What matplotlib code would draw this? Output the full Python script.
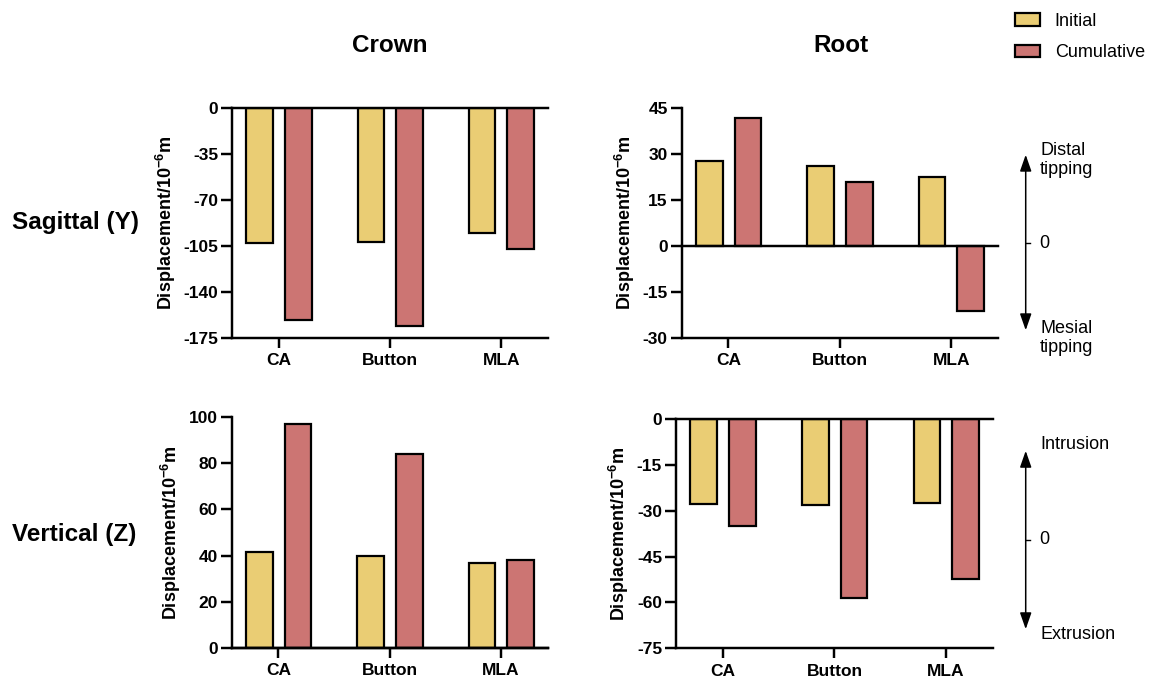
import numpy as np
import matplotlib
matplotlib.use("Agg")
import matplotlib.pyplot as plt
from matplotlib.lines import Line2D

plt.rcParams['font.family'] = ['Liberation Sans', 'DejaVu Sans']
plt.rcParams['mathtext.fontset'] = 'custom'
plt.rcParams['mathtext.rm'] = 'Liberation Sans'
plt.rcParams['mathtext.bf'] = 'Liberation Sans:bold'
plt.rcParams['axes.unicode_minus'] = False

# data (10^-6 m)
groups = ["CA", "Button", "MLA"]
series = ["Initial", "Cumulative"]
crown_y_initial = [-103.0, -101.7, -95.4]
crown_y_cumulative = [-161.3, -165.6, -107.5]
root_y_initial = [27.6, 26.0, 22.4]
root_y_cumulative = [41.7, 20.8, -21.3]
crown_z_initial = [41.7, 39.9, 36.8]
crown_z_cumulative = [97.0, 84.2, 37.9]
root_z_initial = [-27.9, -28.0, -27.4]
root_z_cumulative = [-34.9, -58.4, -52.2]

ylims = {"tl": (-175, 0), "tr": (-30, 45), "bl": (0, 100), "br": (-75, 0)}
yticks = {"tl": np.arange(-175, 1, 35), "tr": np.arange(-30, 46, 15),
          "bl": np.arange(0, 101, 20), "br": np.arange(-75, 1, 15)}

c_init = "#EACD74"
c_cum = "#CC7573"
lw = 1.6

fig = plt.figure(figsize=(11.53, 6.83), dpi=100)

panels = [
    ("tl", [0.2012, 0.5051, 0.2741, 0.3368], crown_y_initial, crown_y_cumulative),
    ("tr", [0.5912, 0.5051, 0.2744, 0.3368], root_y_initial, root_y_cumulative),
    ("bl", [0.2010, 0.0517, 0.2741, 0.3373], crown_z_initial, crown_z_cumulative),
    ("br", [0.5863, 0.0508, 0.2749, 0.3357], root_z_initial, root_z_cumulative),
]

x = np.arange(len(groups))
for key, rect, init, cum in panels:
    ax = fig.add_axes(rect)
    ax.bar(x - 0.172, init, width=0.24, color=c_init, edgecolor="black", linewidth=lw, zorder=2)
    ax.bar(x + 0.175, cum, width=0.24, color=c_cum, edgecolor="black", linewidth=lw, zorder=2)
    ax.axhline(0, color="black", linewidth=lw * 1.1, zorder=3, clip_on=False)
    ax.set_xlim(-0.42, 2.42)
    ax.set_ylim(*ylims[key])
    ax.set_yticks(yticks[key])
    ax.set_xticks(x)
    ax.set_xticklabels(groups)
    for s in ["top", "right"]:
        ax.spines[s].set_visible(False)
    for s in ["left", "bottom"]:
        ax.spines[s].set_linewidth(lw * 1.1)
    ax.tick_params(axis="both", width=lw * 1.1, labelsize=12.5)
    ax.tick_params(axis="y", length=8, pad=2)
    ax.tick_params(axis="x", length=7, pad=4)
    for lab in ax.get_xticklabels() + ax.get_yticklabels():
        lab.set_fontweight("bold")
    ax.set_ylabel(r"Displacement/10$^{\mathbf{-6}}$m", fontsize=13, fontweight="bold", labelpad=4)

# column / row titles
fig.text(0.338, 0.934, "Crown", ha="center", va="center", fontsize=17.5, fontweight="bold")
fig.text(0.729, 0.934, "Root", ha="center", va="center", fontsize=17.5, fontweight="bold")
fig.text(0.010, 0.6735, "Sagittal (Y)", ha="left", va="center", fontsize=17.5, fontweight="bold")
fig.text(0.010, 0.2167, "Vertical (Z)", ha="left", va="center", fontsize=17.5, fontweight="bold")

# legend
handles = [plt.Rectangle((0, 0), 1, 1, facecolor=c_init, edgecolor="black", linewidth=lw),
           plt.Rectangle((0, 0), 1, 1, facecolor=c_cum, edgecolor="black", linewidth=lw)]
fig.legend(handles, series, loc="upper left", bbox_to_anchor=(0.866, 1.005),
           frameon=False, fontsize=13, handlelength=1.42, handleheight=0.7,
           handletextpad=0.8, labelspacing=0.8)

# direction annotations
ax_x = 0.8896
for top, bot, mid, up_txt, dn_txt, up_y, dn_y in [
    (0.7775, 0.5124, 0.6442, "Distal\ntipping", "Mesial\ntipping", 0.766, 0.505),
    (0.344, 0.0747, 0.2094, "Intrusion", "Extrusion", 0.3485, 0.0703),
]:
    fig.patches.append(matplotlib.patches.FancyArrowPatch(
        (ax_x, bot), (ax_x, top), transform=fig.transFigure,
        arrowstyle="<|-|>,head_length=1.0,head_width=0.35", mutation_scale=10,
        color="black", linewidth=1.1))
    fig.lines.append(Line2D([ax_x, ax_x + 0.004], [mid, mid], transform=fig.transFigure,
                            color="black", linewidth=1.0))
    fig.text(0.901, mid, "0", ha="left", va="center", fontsize=13)
    fig.text(0.902, up_y, up_txt, ha="left", va="center", fontsize=13, linespacing=1.15)
    fig.text(0.902, dn_y, dn_txt, ha="left", va="center", fontsize=13, linespacing=1.15)

fig.savefig("out.png", dpi=100)
